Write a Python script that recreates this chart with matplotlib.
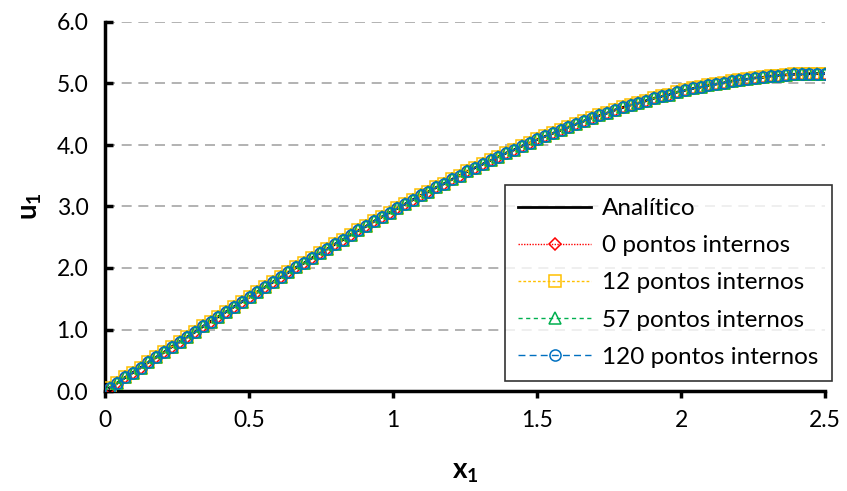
import matplotlib
matplotlib.use("Agg")
import matplotlib.pyplot as plt
from matplotlib.lines import Line2D

plt.rcParams['font.family'] = ['Lato', 'DejaVu Sans']
plt.rcParams['mathtext.fontset'] = 'custom'
plt.rcParams['mathtext.rm'] = 'Lato'
plt.rcParams['mathtext.bf'] = 'Lato:bold'

x1 = [0.016, 0.043, 0.070, 0.097, 0.124, 0.151, 0.178, 0.205, 0.232, 0.259,
      0.286, 0.313, 0.340, 0.367, 0.394, 0.421, 0.448, 0.475, 0.502, 0.529,
      0.556, 0.583, 0.610, 0.637, 0.664, 0.691, 0.718, 0.745, 0.772, 0.799,
      0.826, 0.853, 0.880, 0.907, 0.934, 0.961, 0.988, 1.015, 1.042, 1.069,
      1.096, 1.123, 1.150, 1.177, 1.204, 1.231, 1.258, 1.285, 1.312, 1.339,
      1.366, 1.393, 1.420, 1.447, 1.474, 1.501, 1.528, 1.555, 1.582, 1.609,
      1.636, 1.663, 1.690, 1.717, 1.744, 1.771, 1.798, 1.825, 1.852, 1.879,
      1.906, 1.933, 1.960, 1.987, 2.014, 2.041, 2.068, 2.095, 2.122, 2.149,
      2.176, 2.203, 2.230, 2.257, 2.284, 2.311, 2.338, 2.365, 2.392, 2.419,
      2.446, 2.473, 2.500]

u_analitico = [0.05, 0.13, 0.22, 0.30, 0.38, 0.47, 0.55, 0.63, 0.72, 0.80,
               0.88, 0.96, 1.05, 1.13, 1.21, 1.29, 1.37, 1.45, 1.53, 1.61,
               1.69, 1.77, 1.85, 1.93, 2.01, 2.08, 2.16, 2.24, 2.31, 2.39,
               2.46, 2.54, 2.61, 2.68, 2.76, 2.83, 2.90, 2.97, 3.04, 3.11,
               3.18, 3.24, 3.31, 3.37, 3.44, 3.50, 3.57, 3.63, 3.69, 3.75,
               3.81, 3.87, 3.92, 3.98, 4.03, 4.09, 4.14, 4.19, 4.24, 4.29,
               4.34, 4.39, 4.44, 4.48, 4.52, 4.57, 4.61, 4.65, 4.68, 4.72,
               4.76, 4.79, 4.82, 4.86, 4.89, 4.92, 4.94, 4.97, 4.99, 5.01,
               5.04, 5.06, 5.07, 5.09, 5.10, 5.12, 5.13, 5.14, 5.15, 5.15,
               5.16, 5.16, 5.16]
u_0 = list(u_analitico)
u_12 = list(u_analitico)
u_57 = list(u_analitico)
u_120 = list(u_analitico)

labels = ["Analítico", "0 pontos internos", "12 pontos internos",
          "57 pontos internos", "120 pontos internos"]
xticks = [0, 0.5, 1, 1.5, 2, 2.5]
xticklabels = ["0", "0.5", "1", "1.5", "2", "2.5"]
yticks = [0, 1, 2, 3, 4, 5, 6]
yticklabels = ["0.0", "1.0", "2.0", "3.0", "4.0", "5.0", "6.0"]

fig = plt.figure(figsize=(8.47, 4.91), dpi=100)
ax = fig.add_axes([105/847, 1-391/491, 720/847, 369/491])

ms = 8
mew = 1.1
ax.plot(x1, u_analitico, color='black', lw=2, zorder=2)
ax.plot(x1, u_0, color='#FF0000', lw=1, ls=(0, (1, 1)), marker='D', ms=ms-1.5,
        mfc='none', mec='#FF0000', mew=mew, zorder=3)
ax.plot(x1, u_12, color='#FFC000', lw=1, ls=(0, (2, 1.5)), marker='s', ms=ms+0.5,
        mfc='none', mec='#FFC000', mew=mew, zorder=4)
ax.plot(x1, u_57, color='#00B050', lw=1, ls=(0, (3, 2.5)), marker='^', ms=ms+0.5,
        mfc='none', mec='#00B050', mew=mew, zorder=5)
ax.plot(x1, u_120, color='#0070C0', lw=1, ls=(0, (5, 3)), marker='o', ms=ms,
        mfc='none', mec='#0070C0', mew=mew, zorder=6)

ax.set_xlim(0, 2.5)
ax.set_ylim(0, 6)
ax.set_xticks(xticks)
ax.set_xticklabels(xticklabels)
ax.set_yticks(yticks)
ax.set_yticklabels(yticklabels)
for v in yticks[1:]:
    ax.axhline(v, color='#A6A6A6', lw=1.2, ls=(0, (6, 4)), zorder=1)

for s in ['top', 'right']:
    ax.spines[s].set_visible(False)
for s in ['left', 'bottom']:
    ax.spines[s].set_linewidth(2.5)
    ax.spines[s].set_color('black')
ax.tick_params(axis='y', direction='in', length=6, width=2.5, labelsize=16.5, pad=12)
ax.tick_params(axis='x', direction='out', length=5, width=2.5, labelsize=16.5, pad=9)

ax.set_xlabel(r'$\mathbf{x_1}$', fontsize=20, labelpad=20)
ax.set_ylabel(r'$\mathbf{u_1}$', fontsize=20, labelpad=9)

handles = [
    Line2D([], [], color='black', lw=2),
    Line2D([], [], color='#FF0000', lw=1, ls=(0, (1, 1)), marker='D', ms=ms-1.5, mfc='none', mec='#FF0000', mew=mew),
    Line2D([], [], color='#FFC000', lw=1, ls=(0, (2, 1.5)), marker='s', ms=ms+0.5, mfc='none', mec='#FFC000', mew=mew),
    Line2D([], [], color='#00B050', lw=1, ls=(0, (3, 2.5)), marker='^', ms=ms+0.5, mfc='none', mec='#00B050', mew=mew),
    Line2D([], [], color='#0070C0', lw=1, ls=(0, (5, 3)), marker='o', ms=ms, mfc='none', mec='#0070C0', mew=mew),
]
leg = fig.legend(handles, labels, loc='upper left', bbox_to_anchor=(505/847, 1-185/491),
                 fontsize=17.5, frameon=True, fancybox=False, edgecolor='black',
                 handlelength=3.0, handletextpad=0.45, labelspacing=0.66,
                 borderpad=0.55, borderaxespad=0)
leg.get_frame().set_linewidth(1.2)

fig.savefig("out.png", dpi=100)
